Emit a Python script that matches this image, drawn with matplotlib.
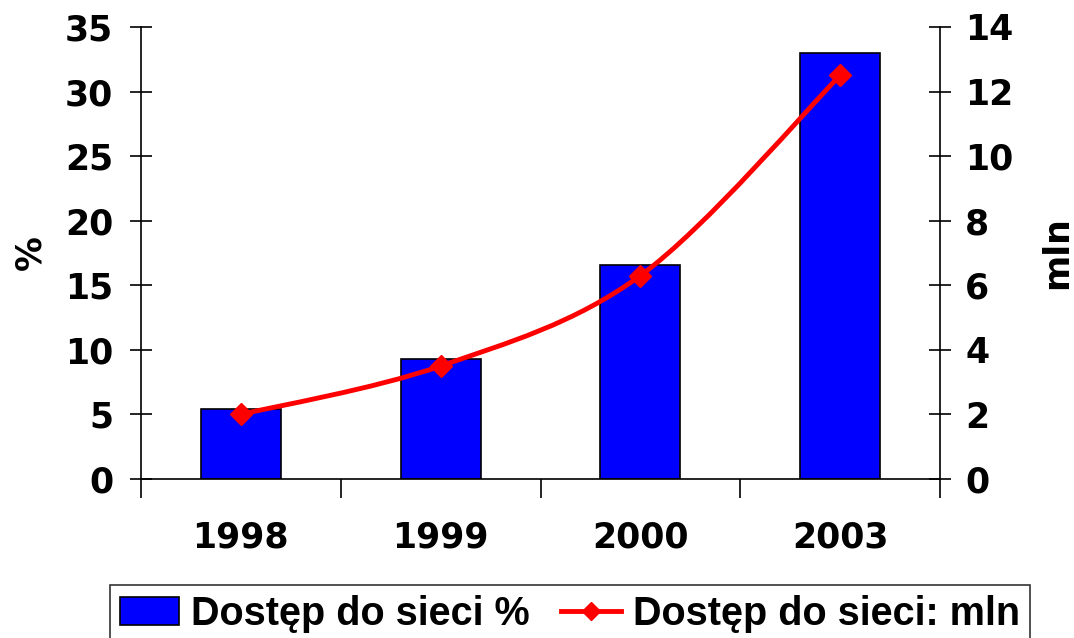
import matplotlib.pyplot as plt
import numpy as np
from matplotlib.path import Path
from matplotlib.patches import PathPatch
from matplotlib.lines import Line2D
from matplotlib.patches import Patch

plt.rcParams["font.family"] = "DejaVu Sans"
plt.rcParams["font.weight"] = "bold"

years = ["1998", "1999", "2000", "2003"]
access_pct = [5.4, 9.3, 16.6, 33.0]
access_mln = [2.0, 3.5, 6.3, 12.5]

BLUE = "#0000FF"
RED = "#FF0000"
FS = 25


def smooth_path(xs, ys, t=1 / 6):
    # Catmull-Rom style bezier through the points (Excel "smoothed line")
    pts = np.column_stack([xs, ys]).astype(float)
    verts = [pts[0]]
    codes = [Path.MOVETO]
    n = len(pts)
    for i in range(n - 1):
        p0 = pts[i - 1] if i > 0 else pts[i]
        p1 = pts[i]
        p2 = pts[i + 1]
        p3 = pts[i + 2] if i + 2 < n else pts[i + 1]
        c1 = p1 + (p2 - p0) * t
        c2 = p2 - (p3 - p1) * t
        verts += [c1, c2, p2]
        codes += [Path.CURVE4] * 3
    return Path(verts, codes)


fig = plt.figure(figsize=(10.74, 6.38), dpi=100)
ax = fig.add_axes([141 / 1074, 1 - 479 / 638, (940 - 141) / 1074, (479 - 27) / 638])
x = np.arange(len(years))
ax.bar(x, access_pct, width=0.4, color=BLUE, edgecolor="black", linewidth=1.2, zorder=2)
ax.set_xlim(-0.5, len(years) - 0.5)
ax.set_ylim(0, 35)
ax.set_yticks(range(0, 36, 5))
ax.tick_params(axis="y", direction="inout", length=16, width=1.2, labelsize=FS, pad=12)
ax.set_xticks(np.arange(-0.5, len(years), 1.0))
ax.set_xticklabels([])
ax.set_xticks(x, minor=True)
ax.set_xticklabels(years, minor=True)
ax.tick_params(axis="x", which="major", direction="out", length=14, width=1.2)
ax.tick_params(axis="x", which="minor", length=0, labelsize=FS, pad=30)
ax.spines["top"].set_visible(False)
ax.spines["right"].set_visible(False)
for s in ["left", "bottom"]:
    ax.spines[s].set_linewidth(1.2)
ax.set_ylabel("%", fontsize=FS, fontweight="bold")
ax.yaxis.set_label_coords(-94 / 799, 0.5)

ax2 = ax.twinx()
ax2.set_ylim(0, 14)
ax2.set_yticks(range(0, 15, 2))
ax2.tick_params(axis="y", direction="inout", length=16, width=1.2, labelsize=FS, pad=10)
for s in ["top", "left", "bottom"]:
    ax2.spines[s].set_visible(False)
ax2.spines["right"].set_linewidth(1.2)
ax2.set_ylabel("mln", fontsize=FS, fontweight="bold")
ax2.yaxis.set_label_coords(1 + 100 / 799, 0.5)
ax2.add_patch(PathPatch(smooth_path(x, access_mln), facecolor="none", edgecolor=RED,
                        linewidth=3.5, zorder=3))
ax2.plot(x, access_mln, linestyle="none", marker="D", markersize=11, color=RED, zorder=4)

handles = [
    Patch(facecolor=BLUE, edgecolor="black", linewidth=1.2),
    Line2D([], [], color=RED, linewidth=3.5, marker="D", markersize=9),
]
leg = fig.legend(handles, ["Dostęp do sieci %", "Dostęp do sieci: mln"],
                 loc="upper left", bbox_to_anchor=(110 / 1074, 1 - 585 / 638),
                 ncol=2, frameon=True, fancybox=False, edgecolor="black",
                 prop={"family": "Liberation Sans", "weight": "bold", "size": 28.5},
                 handlelength=1.5, handletextpad=0.3, columnspacing=0.8,
                 borderpad=0.25, borderaxespad=0)
leg.get_frame().set_linewidth(1.2)

fig.savefig("out.png", dpi=100, facecolor="white")
